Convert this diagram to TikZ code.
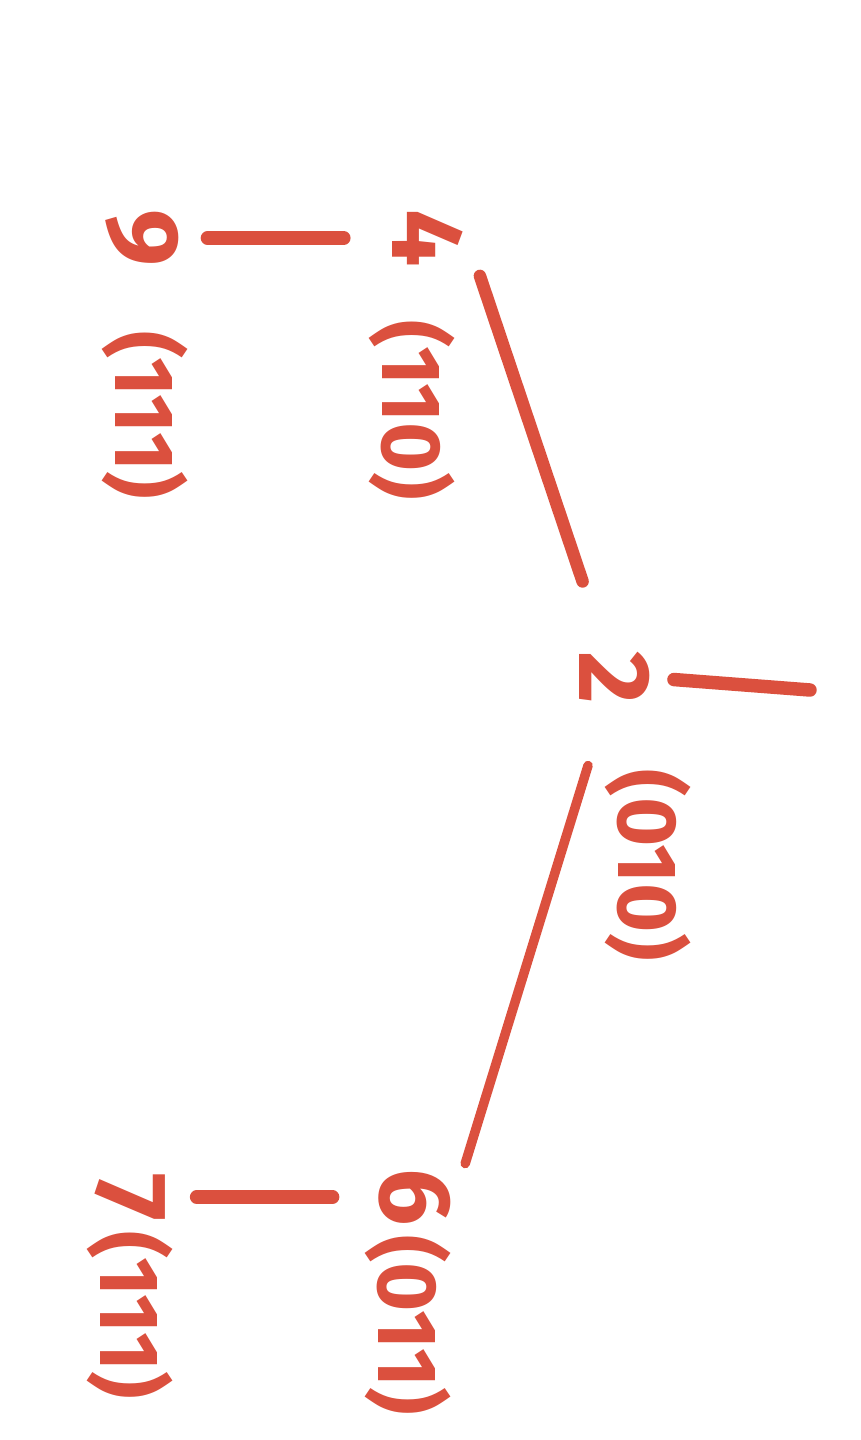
\documentclass[tikz,border=0pt]{standalone}
\usepackage{fontspec}
\setmainfont{Fira Sans}
\definecolor{ink}{RGB}{219,80,62}
\begin{document}
\begin{tikzpicture}[x=0.02cm,y=-0.02cm,line cap=round,line join=round,
  num/.style={text=ink,font=\fontsize{58}{66}\selectfont\bfseries,rotate=-90,inner sep=2pt},
  code/.style={text=ink,font=\fontsize{48}{56}\selectfont\bfseries,rotate=-90,inner sep=2pt},
  edge/.style={draw=ink,line width=0.25cm}]
  \fill[white] (0,0) rectangle (860,1440);
  \useasboundingbox (0,0) rectangle (860,1440);
  % root
  \node[num] (n2) at (615,678) {2};
  \node[code] (c2) at (648,865) {(010)};
  \coordinate (stem) at (810,690);
  % left branch
  \node[num] (n4) at (428,238) {4};
  \node[code] (c4) at (412,410) {(110)};
  \node[num] (n9) at (142,238) {9};
  \node[code] (c9) at (145,415) {(111)};
  % right branch
  \node[num] (n6) at (415,1197) {6};
  \node[code] (c6) at (408,1325) {(011)};
  \node[num] (n7) at (130,1197) {7};
  \node[code] (c7) at (130,1315) {(111)};
  % edges
  \draw[edge,line width=0.27cm,shorten <=0.4cm] (n2.north) -- (stem);
  \draw[edge,shorten <=1.4cm,shorten >=0.8cm] (n2) -- (n4.north);
  \draw[edge,line width=0.19cm,shorten <=1.2cm,shorten >=0.7cm] (n2) -- (n6.north);
  \draw[edge,line width=0.27cm,shorten <=0.9cm,shorten >=0.5cm] (n4.south) -- (n9.north);
  \draw[edge,line width=0.27cm,shorten <=0.85cm,shorten >=0.55cm] (n6.south) -- (n7.north);
\end{tikzpicture}
\end{document}
